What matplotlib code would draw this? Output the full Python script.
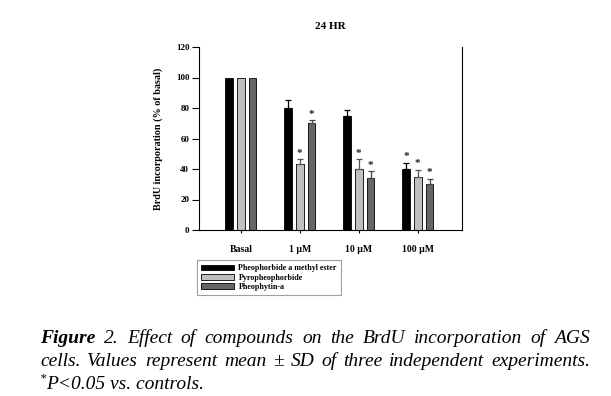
import numpy as np
import matplotlib
matplotlib.use("Agg")
import matplotlib.pyplot as plt

# data
grupos = ["Basal", "1 \u00b5M", "10 \u00b5M", "100 \u00b5M"]
series = ["Pheophorbide a methyl ester", "Pyropheophorbide", "Pheophytin-a"]
colores = ["#000000", "#c0c0c0", "#666666"]
ecolores = ["#000000", "#555555", "#444444"]
media_pme = [100, 80, 75, 40]
media_pyro = [100, 43, 40, 35]
media_phy = [100, 70, 34, 30]
sd_pme = [0, 5, 4, 4]
sd_pyro = [0, 3.5, 6.5, 4.5]
sd_phy = [0, 2, 4.5, 3.5]
sig_pme = [False, False, False, True]
sig_pyro = [False, True, True, True]
sig_phy = [False, True, True, True]

medias = [media_pme, media_pyro, media_phy]
sds = [sd_pme, sd_pyro, sd_phy]
sigs = [sig_pme, sig_pyro, sig_phy]

serif = "Liberation Serif"
plt.rcParams["font.family"] = serif

fig = plt.figure(figsize=(6.11, 3.96), dpi=100)
ax = fig.add_axes([199/611, 1-230/396, 263/611, 183/396])

x = np.arange(len(grupos))
ancho = 0.13
desp = [-0.2, 0.0, 0.2]
for i in range(3):
    xs = x + desp[i]
    ax.bar(xs, medias[i], ancho, color=colores[i], edgecolor="black",
           linewidth=0.6, label=series[i], zorder=2)
    err = np.array(sds[i], dtype=float)
    m = err > 0
    ax.errorbar(xs[m], np.array(medias[i])[m], yerr=[np.zeros(m.sum()), err[m]],
                fmt="none", ecolor=ecolores[i], elinewidth=0.9, capsize=2.5,
                capthick=0.9, zorder=3)
    for j in range(len(grupos)):
        if sigs[i][j]:
            ax.text(xs[j], medias[i][j] + sds[i][j] + 1, "*", ha="center",
                    va="bottom", fontsize=8, fontweight="bold", color="#222222")

ax.set_xlim(-0.71, 3.75)
ax.set_ylim(0, 120)
ax.set_yticks(np.arange(0, 121, 20))
ax.set_xticks(x)
ax.set_xticklabels(grupos)
ax.spines["top"].set_visible(False)
for s in ["left", "right", "bottom"]:
    ax.spines[s].set_linewidth(0.8)
ax.tick_params(axis="y", direction="out", length=5, width=0.8, pad=2, labelsize=6.5)
ax.tick_params(axis="x", direction="out", length=2.5, width=0.8, pad=8, labelsize=7)
for lab in ax.get_xticklabels() + ax.get_yticklabels():
    lab.set_fontweight("bold")
ax.set_ylabel("BrdU incorporation (% of basal)", fontsize=7.3, fontweight="bold", labelpad=9)
ax.set_title("24 HR", fontsize=8, fontweight="bold", pad=13)

leg = ax.legend(loc="upper left", bbox_to_anchor=(197/611, 1-260/396),
                bbox_transform=fig.transFigure, frameon=True, fancybox=False,
                edgecolor="#888888", prop={"family": serif, "weight": "bold", "size": 5.8},
                handlelength=4.0, handleheight=0.7, labelspacing=0.15,
                borderpad=0.55, handletextpad=0.6, borderaxespad=0)
leg.get_frame().set_linewidth(0.8)

# caption, justified like the original
tam = 14
linea1 = [("Figure", "bold"), ("2.", "normal"), ("Effect", "normal"), ("of", "normal"),
          ("compounds", "normal"), ("on", "normal"), ("the", "normal"), ("BrdU", "normal"),
          ("incorporation", "normal"), ("of", "normal"), ("AGS", "normal")]
linea2 = [(w, "normal") for w in
          "cells. Values represent mean \u00b1 SD of three independent experiments.".split()]
x0, x1 = 40/611, 590/611

renderer = fig.canvas.get_renderer()
for palabras, ybase in [(linea1, 1-343/396), (linea2, 1-366/396)]:
    textos = [fig.text(0, ybase, w, fontsize=tam, style="italic", fontweight=wt,
                       va="baseline", ha="left") for w, wt in palabras]
    anchos = [t.get_window_extent(renderer).width/fig.bbox.width for t in textos]
    hueco = (x1 - x0 - sum(anchos))/(len(textos) - 1)
    pos = x0
    for t, a in zip(textos, anchos):
        t.set_x(pos)
        pos += a + hueco

fig.text(x0, 1-381/396, "*", fontsize=9, style="italic", va="baseline", ha="left")
fig.text(x0 + 6/611, 1-389/396, "P<0.05 vs. controls.", fontsize=tam, style="italic",
         va="baseline", ha="left")

fig.savefig("out.png", dpi=100)
